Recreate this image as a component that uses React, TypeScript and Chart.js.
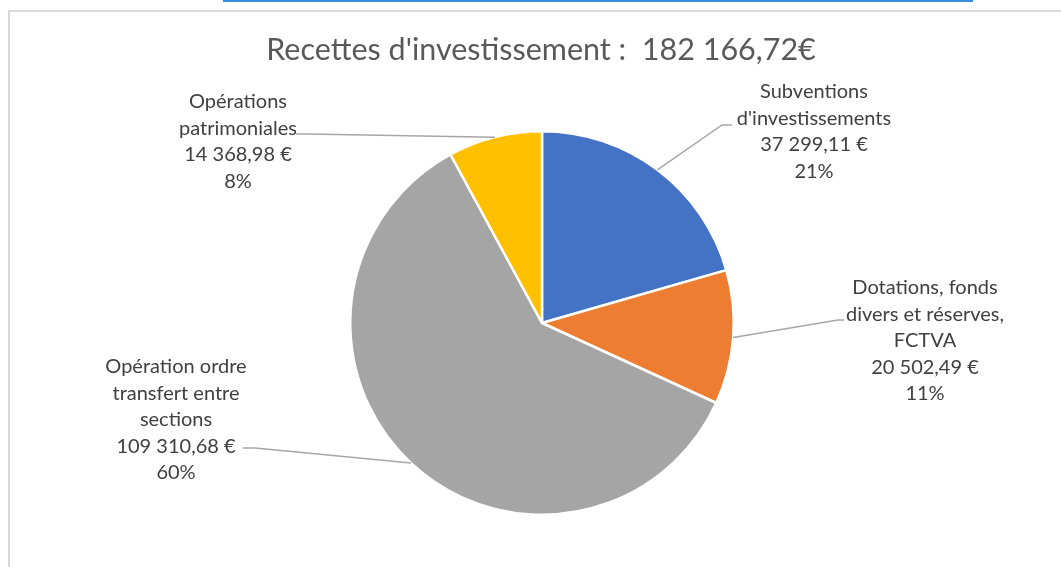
import React, { useEffect, useRef } from "react";
import { Chart, registerables } from "chart.js";

Chart.register(...registerables);

const categories = [
  "Subventions d'investissements",
  "Dotations, fonds divers et réserves, FCTVA",
  "Opération ordre transfert entre sections",
  "Opérations patrimoniales",
];
const labelLines = [
  ["Subventions", "d'investissements"],
  ["Dotations, fonds", "divers et réserves,", "FCTVA"],
  ["Opération ordre", "transfert entre", "sections"],
  ["Opérations", "patrimoniales"],
];
const values = [37299.11, 20502.49, 109310.68, 14368.98];
const colors = ["#4472C4", "#ED7D31", "#A5A5A5", "#FFC000"];
const titleText = "Recettes d'investissement :  182 166,72€";

// label layout (offsets from pie center): elbow of leader, horizontal tail, text center x, first line y
const labelLayout = [
  { ex: 180, ey: -198, hx: 10, tx: 272, ty: -231 },
  { ex: 296, ey: -3, hx: 6, tx: 383, ty: -35 },
  { ex: -287, ey: 125, hx: -12, tx: -366, ty: 44 },
  { ex: -236, ey: -189, hx: -10, tx: -304, ty: -221 },
];

const FONT = "Lato, 'Noto Sans', sans-serif";

function fmtEuro(v: number): string {
  const [i, d] = v.toFixed(2).split(".");
  const int = i.replace(/\B(?=(\d{3})+(?!\d))/g, " ");
  return `${int},${d} €`;
}

const labelPlugin = {
  id: "pieLabels",
  afterDraw(chart: any) {
    const ctx = chart.ctx as CanvasRenderingContext2D;
    const meta = chart.getDatasetMeta(0);
    const data = chart.data.datasets[0].data as number[];
    const total = data.reduce((a, b) => a + b, 0);
    ctx.save();
    // title
    ctx.fillStyle = "#595959";
    ctx.font = `30.5px ${FONT}`;
    ctx.textAlign = "center";
    ctx.textBaseline = "middle";
    const cx0 = (chart.chartArea.left + chart.chartArea.right) / 2;
    ctx.fillText(titleText, cx0 - 1, 50);

    meta.data.forEach((arc: any, i: number) => {
      const p = arc.getProps(["x", "y", "startAngle", "endAngle", "outerRadius"], true);
      const mid = (p.startAngle + p.endAngle) / 2;
      const L = labelLayout[i];
      const sx = p.x + Math.cos(mid) * p.outerRadius;
      const sy = p.y + Math.sin(mid) * p.outerRadius;
      const exx = p.x + L.ex;
      const eyy = p.y + L.ey;
      ctx.strokeStyle = "#A6A6A6";
      ctx.lineWidth = 1.5;
      ctx.beginPath();
      ctx.moveTo(sx, sy);
      ctx.lineTo(exx, eyy);
      ctx.lineTo(exx + L.hx, eyy);
      ctx.stroke();

      const lines = [
        ...labelLines[i],
        fmtEuro(data[i]),
        `${Math.round((data[i] / total) * 100)}%`,
      ];
      ctx.fillStyle = "#404040";
      ctx.font = `20px ${FONT}`;
      ctx.textAlign = "center";
      ctx.textBaseline = "middle";
      lines.forEach((t, k) => {
        ctx.fillText(t, p.x + L.tx, p.y + L.ty + k * 26.5);
      });
    });
    ctx.restore();
  },
};

export default function App() {
  const ref = useRef<HTMLCanvasElement>(null);
  useEffect(() => {
    document.body.style.margin = "0";
    if (!ref.current) return;
    const chart = new Chart(ref.current, {
      type: "pie",
      data: {
        labels: categories,
        datasets: [
          {
            data: values,
            backgroundColor: colors,
            borderColor: "#FFFFFF",
            borderWidth: 2.5,
          },
        ],
      },
      options: {
        responsive: false,
        animation: false,
        layout: { padding: { top: 130, bottom: 51, left: 23, right: 0 } },
        plugins: {
          legend: { display: false },
          tooltip: { enabled: false },
          title: { display: false },
        },
      },
      plugins: [labelPlugin],
    });
    return () => chart.destroy();
  }, []);
  return (
    <div style={{ position: "relative", width: 1061, height: 567, background: "#fff", overflow: "hidden" }}>
      <div style={{ position: "absolute", left: 223, top: 0, width: 750, height: 2, background: "#3A8EE6" }} />
      <div style={{ position: "absolute", left: 8, top: 10, right: 0, height: 2, background: "#D9D9D9" }} />
      <div style={{ position: "absolute", left: 8, top: 10, width: 2, bottom: 0, background: "#D9D9D9" }} />
      <canvas ref={ref} width={1061} height={567} style={{ position: "absolute", left: 0, top: 0 }} />
    </div>
  );
}
